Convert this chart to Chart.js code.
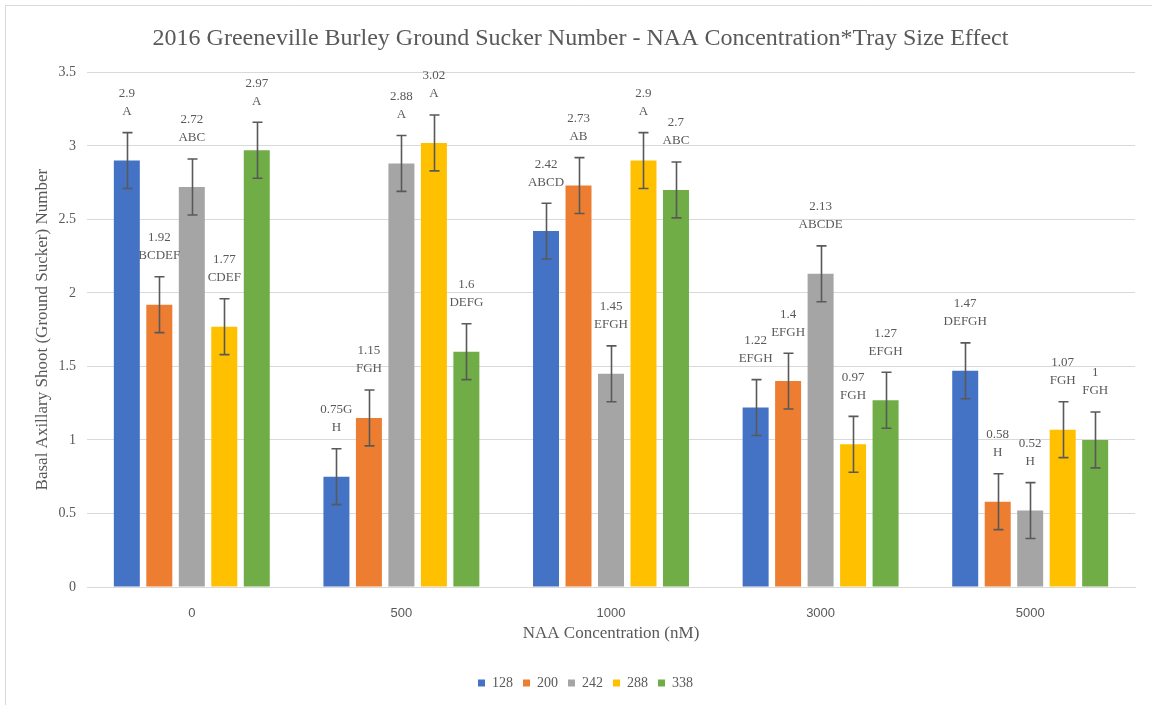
<!DOCTYPE html>
<html>
<head>
<meta charset="utf-8">
<script src="https://cdn.jsdelivr.net/npm/chart.js@4"></script>
<style>
  html, body { margin: 0; padding: 0; background: #fff; }
  #wrap { width: 1152px; height: 705px; }
</style>
</head>
<body>
<div id="wrap"><canvas id="chart" width="1152" height="705"></canvas></div>
<script>
// NAA concentrations (nM) along the x axis, tray cell counts as series
const concentrations = ['0', '500', '1000', '3000', '5000'];
const traySizes = ['128', '200', '242', '288', '338'];

// Mean ground sucker number per concentration, one array per tray size
const mean128 = [2.9, 0.75, 2.42, 1.22, 1.47];
const mean200 = [1.92, 1.15, 2.73, 1.4, 0.58];
const mean242 = [2.72, 2.88, 1.45, 2.13, 0.52];
const mean288 = [1.77, 3.02, 2.9, 0.97, 1.07];
const mean338 = [2.97, 1.6, 2.7, 1.27, 1];

// Mean separation letters ('|' marks where the letter string wraps)
const letters128 = ['A', 'G|H', 'ABCD', 'EFGH', 'DEFGH'];
const letters200 = ['BCDEF', 'FGH', 'AB', 'EFGH', 'H'];
const letters242 = ['ABC', 'A', 'EFGH', 'ABCDE', 'H'];
const letters288 = ['CDEF', 'A', 'A', 'FGH', 'FGH'];
const letters338 = ['A', 'DEFG', 'ABC', 'EFGH', 'FGH'];

// Standard error shown on every bar
const stdError = 0.19;

// Value axis range
const yMin = 0;
const yMax = 3.5;
const yStep = 0.5;

const seriesColors = ['#4472C4', '#ED7D31', '#A5A5A5', '#FFC000', '#70AD47'];
const means = [mean128, mean200, mean242, mean288, mean338];
const letters = [letters128, letters200, letters242, letters288, letters338];

const SERIF = '"Liberation Serif", "Times New Roman", serif';
const SANS = '"Liberation Sans", Arial, sans-serif';
const TEXT = '#595959';

// White background with a thin frame at the left and top edges
const framePlugin = {
  id: 'frame',
  beforeDraw(chart) {
    const ctx = chart.ctx;
    ctx.save();
    ctx.fillStyle = '#ffffff';
    ctx.fillRect(0, 0, chart.width, chart.height);
    ctx.strokeStyle = '#d9d9d9';
    ctx.lineWidth = 1;
    ctx.beginPath();
    ctx.moveTo(5.5, chart.height);
    ctx.lineTo(5.5, 5.5);
    ctx.lineTo(chart.width, 5.5);
    ctx.stroke();
    ctx.restore();
  }
};

// Centre the title and legend row over the plot rather than the canvas
const centreOverPlot = {
  id: 'centreOverPlot',
  afterLayout(chart) {
    const lg = chart.legend;
    if (lg) { lg.left += 15; lg.right += 15; }
    const tb = chart.titleBlock;
    if (tb) { tb.left += 10; tb.right += 10; }
  }
};

// Error bars and two-line value / letter labels above them
const errorBarsAndLabels = {
  id: 'errorBarsAndLabels',
  afterDatasetsDraw(chart) {
    const ctx = chart.ctx;
    const y = chart.scales.y;
    ctx.save();
    chart.data.datasets.forEach((ds, di) => {
      const meta = chart.getDatasetMeta(di);
      meta.data.forEach((bar, i) => {
        const v = ds.data[i];
        const top = y.getPixelForValue(v + stdError);
        const bot = y.getPixelForValue(v - stdError);
        const x = Math.round(bar.x) + 0.5;
        ctx.strokeStyle = '#595959';
        ctx.lineWidth = 1.6;
        ctx.beginPath();
        ctx.moveTo(x, top); ctx.lineTo(x, bot);
        ctx.moveTo(x - 5, top); ctx.lineTo(x + 5, top);
        ctx.moveTo(x - 5, bot); ctx.lineTo(x + 5, bot);
        ctx.stroke();

        const grp = ds.letters[i].split('|');
        const line1 = String(v) + (grp.length > 1 ? grp[0] : '');
        const line2 = grp.length > 1 ? grp[1] : grp[0];
        ctx.fillStyle = TEXT;
        ctx.font = '13px ' + SERIF;
        ctx.textAlign = 'center';
        ctx.textBaseline = 'middle';
        const c2 = top - 21;
        ctx.fillText(line2, bar.x, c2);
        ctx.fillText(line1, bar.x, c2 - 18);
      });
    });
    ctx.restore();
  }
};

new Chart(document.getElementById('chart'), {
  type: 'bar',
  data: {
    labels: concentrations,
    datasets: traySizes.map((name, k) => ({
      label: name,
      data: means[k],
      letters: letters[k],
      backgroundColor: seriesColors[k],
      borderWidth: 0,
      categoryPercentage: 0.775,
      barPercentage: 0.8
    }))
  },
  options: {
    responsive: false,
    animation: false,
    devicePixelRatio: 1,
    layout: { padding: { left: 6, right: 17, top: 10, bottom: 5 } },
    plugins: {
      title: {
        display: true,
        text: '2016 Greeneville Burley Ground Sucker Number - NAA Concentration*Tray Size Effect',
        color: TEXT,
        font: { family: SERIF, size: 24, weight: 'normal' },
        padding: { top: 14, bottom: 19.5 }
      },
      legend: {
        position: 'bottom',
        labels: {
          color: TEXT,
          font: { family: SERIF, size: 14 },
          boxWidth: 7,
          boxHeight: 7,
          padding: 10
        }
      },
      tooltip: { enabled: false }
    },
    scales: {
      x: {
        grid: { display: false, drawTicks: false },
        border: { display: true, color: '#d9d9d9', width: 1 },
        ticks: { color: TEXT, font: { family: SANS, size: 13 }, padding: 19 },
        title: {
          display: true,
          text: 'NAA Concentration (nM)',
          color: TEXT,
          font: { family: SERIF, size: 17 },
          padding: 22
        },
        afterFit(scale) { scale.height = 79; }
      },
      y: {
        min: yMin,
        max: yMax,
        grid: { color: '#d9d9d9', lineWidth: 1, drawTicks: false },
        border: { display: false },
        ticks: {
          stepSize: yStep,
          color: TEXT,
          font: { family: SERIF, size: 14 },
          padding: 11,
          callback: (v) => String(v)
        },
        title: {
          display: true,
          text: 'Basal Axillary Shoot (Ground Sucker) Number',
          color: TEXT,
          font: { family: SERIF, size: 17 },
          padding: 26
        },
        afterFit(scale) { scale.width = 81; }
      }
    }
  },
  plugins: [framePlugin, centreOverPlot, errorBarsAndLabels]
});
</script>
</body>
</html>
